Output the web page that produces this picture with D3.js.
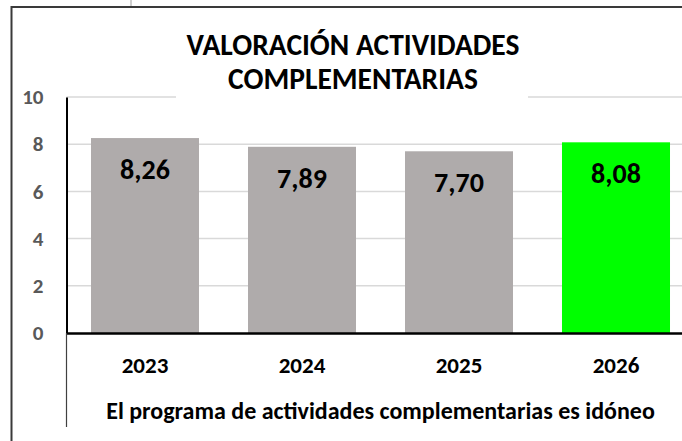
<!DOCTYPE html>
<html>
<head>
<meta charset="utf-8">
<script src="https://cdn.jsdelivr.net/npm/d3@7"></script>
<style>
  body { margin: 0; background: #fff; }
  svg { display: block; font-family: Calibri, Carlito, Lato, sans-serif; }
</style>
</head>
<body>
<svg id="chart"></svg>
<script>
// data
const years = ["2023", "2024", "2025", "2026"];
const scores = [8.26, 7.89, 7.70, 8.08];
const barColors = ["#afabab", "#afabab", "#afabab", "#00ff00"];
const yTicks = [0, 2, 4, 6, 8, 10];
const titleLines = ["VALORACIÓN ACTIVIDADES", "COMPLEMENTARIAS"];
const axisTitle = "El programa de actividades complementarias es idóneo";

const width = 682;
const height = 441;
const fontStack = "Calibri, Carlito, Lato, sans-serif";
const svg = d3.select("#chart").attr("width", width).attr("height", height);

const plotLeft = 66.5, plotRight = 694.5, plotTop = 97, plotBottom = 333;

const x = d3.scaleBand().domain(years).range([plotLeft, plotRight])
	.paddingInner(0.312).paddingOuter(0.156);
const y = d3.scaleLinear().domain([0, 10]).range([plotBottom, plotTop]);

// outer frame
svg.append("line").attr("x1", 131).attr("x2", 131).attr("y1", 0).attr("y2", 7)
	.attr("stroke", "#a0a0a0").attr("stroke-width", 1);
svg.append("rect").attr("x", 11.5).attr("y", 7).attr("width", 720).attr("height", 480)
	.attr("fill", "none").attr("stroke", "#3a3a3a").attr("stroke-width", 2);

// gridlines
svg.append("g").selectAll("line").data(yTicks.filter((d) => d > 0)).join("line")
	.attr("x1", plotLeft).attr("x2", width)
	.attr("y1", (d) => y(d)).attr("y2", (d) => y(d))
	.attr("stroke", "#d9d9d9").attr("stroke-width", 1.5);

// title (white box hides gridline behind it)
svg.append("rect").attr("x", 176).attr("y", 22).attr("width", 352).attr("height", 80).attr("fill", "#fff");
svg.append("g").selectAll("text").data(titleLines).join("text")
	.attr("x", 353).attr("y", (d, i) => 55 + i * 34)
	.attr("text-anchor", "middle")
	.attr("font-size", 29.5).attr("font-weight", "bold").attr("fill", "#000")
	.text((d) => d);

// bars
const bars = svg.append("g").selectAll("g").data(years).join("g");
bars.append("rect")
	.attr("x", (d) => x(d)).attr("width", x.bandwidth())
	.attr("y", (d, i) => y(scores[i])).attr("height", (d, i) => y(0) - y(scores[i]))
	.attr("fill", (d, i) => barColors[i]);
bars.append("text")
	.attr("x", (d) => x(d) + x.bandwidth() / 2)
	.attr("y", (d, i) => y(scores[i]) + 41)
	.attr("text-anchor", "middle")
	.attr("font-size", 28).attr("font-weight", "bold").attr("fill", "#000")
	.text((d, i) => d3.format(".2f")(scores[i]).replace(".", ","));

// y axis
const yAxis = svg.append("g").attr("transform", `translate(${plotLeft},0)`)
	.call(d3.axisLeft(y).tickValues(yTicks).tickSize(0).tickPadding(23));
yAxis.select(".domain").attr("stroke", "#000").attr("stroke-width", 2);
yAxis.selectAll("text")
	.style("font-size", "21px").style("font-weight", "bold")
	.style("font-family", fontStack).attr("fill", "#595959");

// x axis
const xAxis = svg.append("g").attr("transform", `translate(0,${plotBottom})`)
	.call(d3.axisBottom(x).tickSize(0).tickPadding(24));
xAxis.select(".domain").attr("stroke", "#000").attr("stroke-width", 2.5);
xAxis.selectAll("text")
	.style("font-size", "23px").style("font-weight", "bold")
	.style("font-family", fontStack).attr("fill", "#000");

// divider under the axis
svg.append("line").attr("x1", plotLeft).attr("x2", plotLeft).attr("y1", plotBottom).attr("y2", 427)
	.attr("stroke", "#404040").attr("stroke-width", 1.2);

// axis title
svg.append("text")
	.attr("x", (plotLeft + plotRight) / 2).attr("y", 419)
	.attr("text-anchor", "middle")
	.attr("font-size", 24).attr("font-weight", "bold").attr("fill", "#000")
	.text(axisTitle);
</script>
</body>
</html>
